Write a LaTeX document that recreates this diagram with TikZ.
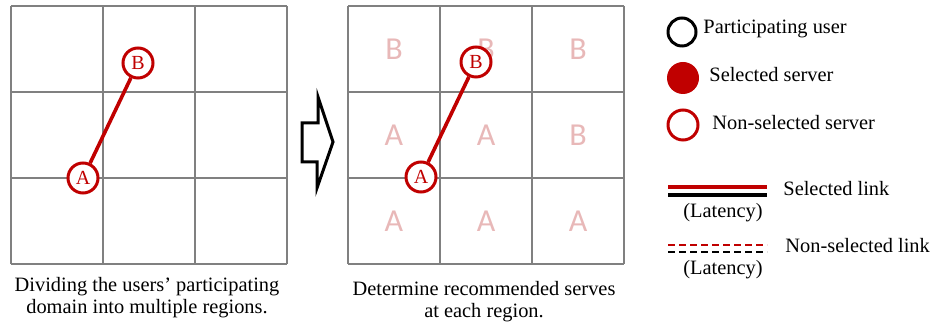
\documentclass[tikz,border=0pt]{standalone}
\usepackage{fontspec}
\setmainfont{Liberation Serif}
\newfontfamily\regionfont{Carlito}
\definecolor{srvred}{HTML}{C00000}
\definecolor{regionpink}{HTML}{E8B8B8}
\definecolor{gridgray}{HTML}{808080}
\begin{document}
\begin{tikzpicture}[x=0.5pt,y=-0.5pt,
		gridline/.style={draw=gridgray, line width=1pt},
		server/.style={circle, draw=srvred, fill=white, line width=1.5pt, text=srvred,
			minimum size=15pt, inner sep=0pt, font=\fontsize{10}{10}\selectfont},
		link/.style={srvred, line width=1.8pt},
		region/.style={text=regionpink, font=\regionfont\fontsize{16}{16}\selectfont},
		caption/.style={align=center, font=\fontsize{10.2}{11}\selectfont},
		legend/.style={anchor=west, font=\fontsize{10.2}{11}\selectfont, inner sep=0pt}]
	\useasboundingbox (0,0) rectangle (930,330);
	% the two 3x3 grids
	\foreach \gx in {11,348} {
		\foreach \i in {0,1,2,3} {
			\draw[gridline] (\gx+92*\i,6) -- (\gx+92*\i,264);
			\draw[gridline] (\gx,6+86*\i) -- (\gx+276,6+86*\i);
		}
	}
	% recommended server of each region
	\foreach \c/\r/\l in {0/0/B,1/0/B,2/0/B,0/1/A,1/1/A,2/1/B,0/2/A,1/2/A,2/2/A}
		\node[region] at (394+92*\c,49+86*\r) {\l};
	% servers and the selected link
	\node[server] (A1) at (83,178) {A};
	\node[server] (B1) at (138,63) {B};
	\draw[link] (A1) -- (B1);
	\node[server] (A2) at (421,177) {A};
	\node[server] (B2) at (476,62) {B};
	\draw[link] (A2) -- (B2);
	% hollow arrow between the grids
	\draw[line width=1.5pt, line join=miter]
		(302,123) -- (318,123) -- (318,97) -- (333,142) -- (317,188) -- (317,162) -- (302,162) -- cycle;
	\node[caption] (cap1) at (147,298) {Dividing the users' participating\\domain into multiple regions.};
	\node[caption] (cap2) at (484,302) {Determine recommended serves\\at each region.};
	% legend
	\node[circle, draw=black, line width=1.5pt, minimum size=14pt, inner sep=0pt] (user) at (682,32) {};
	\node[legend] (userlbl) at (703,29) {Participating user};
	\node[circle, fill=srvred, minimum size=16pt, inner sep=0pt] (sel) at (683,78) {};
	\node[legend] (sellbl) at (709,75) {Selected server};
	\node[server] (nsel) at (683,125) {};
	\node[legend] (nsellbl) at (712,123) {Non-selected server};
	\coordinate (s1) at (668,187); \coordinate (s2) at (767,187);
	\coordinate (s3) at (668,195); \coordinate (s4) at (767,195);
	\draw[srvred, line width=2pt] (s1) -- (s2);
	\draw[black, line width=2pt] (s3) -- (s4);
	\node[legend] (slinklbl) at (783,189) {Selected link};
	\node[font=\fontsize{10.2}{11}\selectfont] (slat) at (723,213) {(Latency)};
	\coordinate (n1) at (668,245); \coordinate (n2) at (767,245);
	\coordinate (n3) at (668,252); \coordinate (n4) at (767,252);
	\draw[srvred, line width=0.6pt, dash pattern=on 3.5pt off 2pt] (n1) -- (n2);
	\draw[black, line width=0.6pt, dash pattern=on 3.5pt off 2pt] (n3) -- (n4);
	\node[legend] (nlinklbl) at (785,246) {Non-selected link};
	\node[font=\fontsize{10.2}{11}\selectfont] (nlat) at (723,270) {(Latency)};
\end{tikzpicture}
\end{document}
